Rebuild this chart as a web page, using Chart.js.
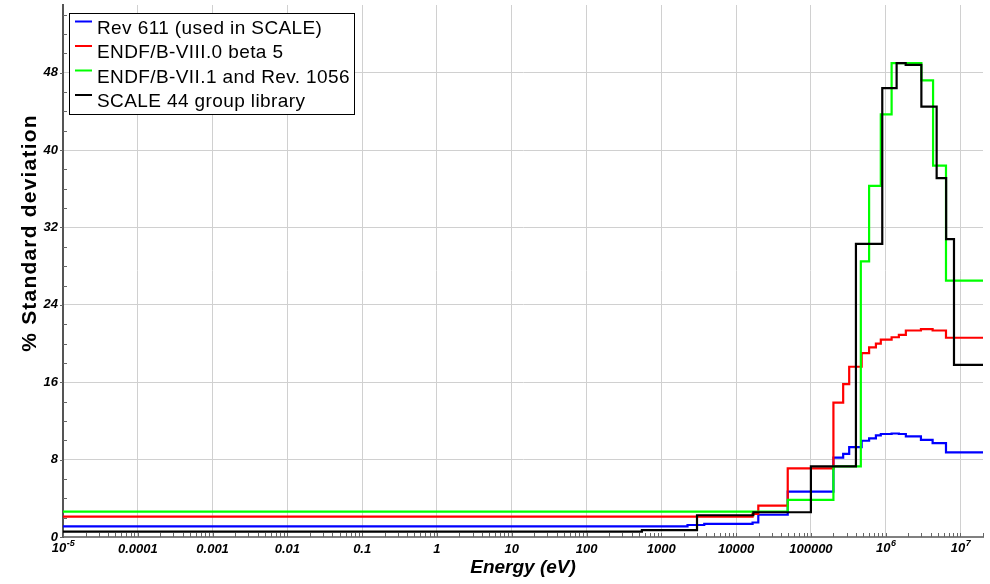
<!DOCTYPE html>
<html>
<head>
<meta charset="utf-8">
<script src="https://cdn.jsdelivr.net/npm/chart.js@4.4.1/dist/chart.umd.min.js"></script>
<style>
  html, body { margin: 0; padding: 0; background: #fff; }
  canvas { display: block; }
</style>
</head>
<body>
<canvas id="myChart" width="990" height="584"></canvas>
<script>
// group lower edges (eV, last one = upper edge) and % std. deviation of each group
const rev611Edges  = [1e-5, 2240, 3750, 16600, 19800, 49000, 2e5, 2.7e5, 3.25e5, 4.77e5, 6e5, 7.4e5, 8.6e5, 1.2e6, 1.5e6, 1.86e6, 2.96e6, 4.24e6, 6.4e6, 2e7];
const rev611Values = [1.1, 1.24, 1.35, 1.5, 2.3, 4.7, 8.2, 8.6, 9.3, 9.95, 10.2, 10.5, 10.65, 10.7, 10.65, 10.4, 10.05, 9.7, 8.75];

const b8Edges  = [1e-5, 16600, 19800, 49000, 2e5, 2.7e5, 3.25e5, 4.77e5, 6e5, 7.4e5, 8.6e5, 1.2e6, 1.5e6, 1.86e6, 2.96e6, 4.24e6, 6.4e6, 2e7];
const b8Values = [2.1, 2.4, 3.25, 7.1, 13.9, 15.8, 17.6, 19.0, 19.6, 20.0, 20.4, 20.65, 20.9, 21.35, 21.5, 21.35, 20.6];

const b71Edges  = [1e-5, 49000, 2e5, 4.65e5, 6e5, 8.6e5, 1.2e6, 3e6, 4.3e6, 6.4e6, 2e7];
const b71Values = [2.62, 3.83, 7.3, 28.5, 36.3, 43.7, 49.0, 47.2, 38.4, 26.5];

const scale44Edges  = [1e-5, 550, 3000, 17000, 1e5, 4e5, 9e5, 1.4e6, 1.85e6, 3e6, 4.8e6, 6.434e6, 8.187e6, 2e7];
const scale44Values = [0.55, 0.72, 2.25, 2.56, 7.3, 30.3, 46.4, 49.0, 48.8, 44.5, 37.1, 30.8, 17.8];

const seriesLabels = ['Rev 611 (used in SCALE)', 'ENDF/B-VIII.0 beta 5', 'ENDF/B-VII.1 and Rev. 1056', 'SCALE 44 group library'];

const xTickValues = [1e-5, 1e-4, 1e-3, 1e-2, 0.1, 1, 10, 100, 1000, 10000, 100000, 1e6, 1e7];
const xTickLabels = ['10^-5', '0.0001', '0.001', '0.01', '0.1', '1', '10', '100', '1000', '10000', '100000', '10^6', '10^7'];
const yTickValues = [0, 8, 16, 24, 32, 40, 48];

const FONT = '"Liberation Sans", Arial, sans-serif';
const TICK_FONT = { family: FONT, size: 13, weight: 'bold', style: 'italic' };

function steps(edges, values) {
  return edges.map((e, i) => ({ x: e, y: values[Math.min(i, values.length - 1)] }));
}
function isDecade(v) {
  const l = Math.log10(v);
  return Math.abs(l - Math.round(l)) < 1e-9;
}
function xLabelIndex(v) {
  return xTickValues.findIndex(tv => Math.abs(Math.log10(tv) - Math.log10(v)) < 1e-6);
}

// legend in a framed box at the top left of the plot
const legendBox = {
  id: 'legendBox',
  afterDraw(chart) {
    const ctx = chart.ctx;
    ctx.save();
    ctx.fillStyle = '#fff';
    ctx.fillRect(69, 13, 286, 102);
    ctx.strokeStyle = '#000';
    ctx.lineWidth = 1;
    ctx.strokeRect(69.5, 13.5, 285, 101);
    ctx.font = '19px ' + FONT;
    ctx.letterSpacing = '0.4px';
    ctx.textBaseline = 'middle';
    chart.data.datasets.forEach((ds, i) => {
      const cy = 28.5 + i * 24.5;
      ctx.strokeStyle = ds.borderColor;
      ctx.lineWidth = 2;
      ctx.beginPath();
      ctx.moveTo(75, cy - 7);
      ctx.lineTo(92, cy - 7);
      ctx.stroke();
      ctx.fillStyle = '#000';
      ctx.fillText(ds.label, 97, cy);
    });
    ctx.restore();
  }
};

// y title sits above the middle of the axis in the original
const yTitle = {
  id: 'yTitle',
  afterDraw(chart) {
    const ctx = chart.ctx;
    ctx.save();
    ctx.translate(30, 233);
    ctx.rotate(-Math.PI / 2);
    ctx.font = 'bold 21px ' + FONT;
    ctx.letterSpacing = '1.2px';
    ctx.fillStyle = '#000';
    ctx.textAlign = 'center';
    ctx.textBaseline = 'middle';
    ctx.fillText('% Standard deviation', 0, 0);
    ctx.restore();
  }
};

// small inside tick marks, and the 10^n labels with a raised exponent
const axisExtras = {
  id: 'axisExtras',
  afterDraw(chart) {
    const ctx = chart.ctx;
    const xs = chart.scales.x, ys = chart.scales.y;
    const area = chart.chartArea;
    ctx.save();
    ctx.strokeStyle = '#666';
    ctx.lineWidth = 1;
    ctx.beginPath();
    xs.ticks.forEach(t => {
      const px = Math.round(xs.getPixelForValue(t.value)) + 0.5;
      ctx.moveTo(px, area.bottom);
      ctx.lineTo(px, area.bottom - 4);
    });
    ys.ticks.forEach(t => {
      const py = Math.round(ys.getPixelForValue(t.value)) + 0.5;
      if (yTickValues.includes(t.value)) {
        ctx.moveTo(area.left - 3, py);
        ctx.lineTo(area.left, py);
      } else {
        ctx.moveTo(area.left, py);
        ctx.lineTo(area.left + 4, py);
      }
    });
    ctx.stroke();

    ctx.fillStyle = '#000';
    ctx.textBaseline = 'middle';
    ctx.textAlign = 'left';
    xTickLabels.forEach((lab, i) => {
      if (lab.indexOf('^') < 0) return;
      const [base, exp] = lab.split('^');
      const px = xs.getPixelForValue(xTickValues[i]);
      ctx.font = 'italic bold 13px ' + FONT;
      const wb = ctx.measureText(base).width;
      ctx.font = 'italic bold 9px ' + FONT;
      const we = ctx.measureText(exp).width;
      const x0 = px - (wb + we) / 2;
      ctx.font = 'italic bold 13px ' + FONT;
      ctx.fillText(base, x0, area.bottom + 11);
      ctx.font = 'italic bold 9px ' + FONT;
      ctx.fillText(exp, x0 + wb + 0.5, area.bottom + 7);
    });
    ctx.restore();
  }
};

var ctx = document.getElementById('myChart').getContext('2d');
var myChart = new Chart(ctx, {
  type: 'line',
  data: {
    datasets: [
      { label: seriesLabels[0], data: steps(rev611Edges, rev611Values), borderColor: '#0000ff', order: 3 },
      { label: seriesLabels[1], data: steps(b8Edges, b8Values), borderColor: '#ff0000', order: 2 },
      { label: seriesLabels[2], data: steps(b71Edges, b71Values), borderColor: '#00ff00', order: 1 },
      { label: seriesLabels[3], data: steps(scale44Edges, scale44Values), borderColor: '#000000', order: 0 }
    ]
  },
  options: {
    responsive: false,
    animation: false,
    datasets: {
      line: { stepped: 'before', borderWidth: 2.2, pointRadius: 0, fill: false }
    },
    layout: { padding: { top: 5, right: 7, left: 0, bottom: 0 } },
    plugins: { legend: { display: false }, tooltip: { enabled: false } },
    scales: {
      x: {
        type: 'logarithmic',
        min: 1e-5,
        max: 2e7,
        afterBuildTicks: s => {
          const t = [];
          for (let d = -5; d <= 7; d++) {
            for (let m = 1; m <= 9; m++) {
              const v = m * Math.pow(10, d);
              if (v <= 2e7 * 1.0001) t.push({ value: v });
            }
          }
          s.ticks = t;
        },
        afterFit: s => { s.height = 47; s.paddingLeft = 0; s.paddingRight = 0; },
        ticks: {
          autoSkip: false,
          maxRotation: 0,
          padding: 5,
          color: '#000',
          font: TICK_FONT,
          callback: v => {
            const i = xLabelIndex(v);
            return (i >= 0 && xTickLabels[i].indexOf('^') < 0) ? xTickLabels[i] : '';
          }
        },
        grid: {
          color: c => (c.tick && isDecade(c.tick.value)) ? '#d0d0d0' : 'rgba(0,0,0,0)',
          drawTicks: false
        },
        border: { color: '#808080', width: 2 },
        title: {
          display: true,
          text: 'Energy (eV)',
          color: '#000',
          font: { family: FONT, size: 19, weight: 'bold', style: 'italic' },
          padding: { top: 0, bottom: 5 }
        }
      },
      y: {
        min: 0,
        max: 55,
        afterBuildTicks: s => {
          const t = [];
          for (let v = 0; v <= 54; v += 2) t.push({ value: v });
          s.ticks = t;
        },
        afterFit: s => { s.width = 63; s.paddingTop = 0; s.paddingBottom = 0; },
        ticks: {
          autoSkip: false,
          padding: 5,
          color: '#000',
          font: TICK_FONT,
          callback: v => yTickValues.includes(v) ? String(v) : ''
        },
        grid: {
          color: c => (c.tick && yTickValues.includes(c.tick.value)) ? '#d0d0d0' : 'rgba(0,0,0,0)',
          drawTicks: false
        },
        border: { color: '#555', width: 2 }
      }
    }
  },
  plugins: [legendBox, yTitle, axisExtras]
});
</script>
</body>
</html>
